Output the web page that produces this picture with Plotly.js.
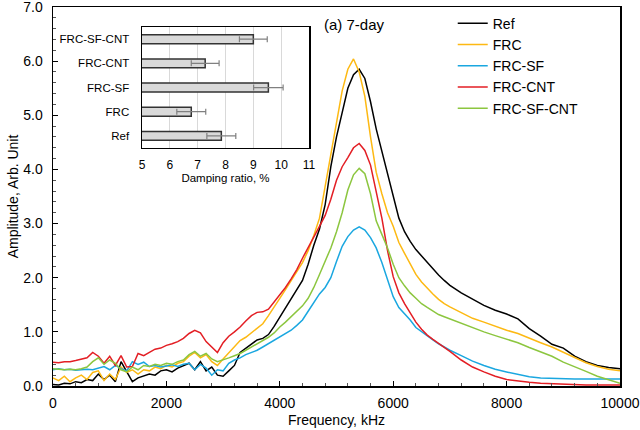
<!DOCTYPE html>
<html><head><meta charset="utf-8">
<script src="https://cdn.plot.ly/plotly-3.0.1.min.js"></script>
<style>html,body{margin:0;padding:0;background:#fff}#chart{width:640px;height:430px}</style>
</head><body><div id="chart"></div>
<script>
// Frequency grid (kHz)
const freq = [0,100,200,300,400,500,600,700,800,900,1000,1100,1200,1300,1400,1500,1600,1700,1800,1900,
2000,2100,2200,2300,2400,2500,2600,2700,2800,2900,3000,3100,3200,3300,3400,3500,3600,3700,3800,3900,
4000,4100,4200,4300,4400,4500,4600,4700,4800,4900,5000,5100,5200,5300,5400,5500,5600,5700,5800,5900,
6000,6100,6200,6300,6400,6500,6600,6700,6800,6900,7000,7200,7400,7600,7800,8000,8200,8400,8600,8800,
9000,9200,9400,9600,9800,10000];

const ampRef = [0.03,0.02,0.05,0.04,0.08,0.06,0.12,0.10,0.22,0.12,0.20,0.08,0.45,0.25,0.08,0.15,0.18,0.22,0.20,0.28,
0.30,0.26,0.33,0.38,0.42,0.30,0.45,0.28,0.35,0.20,0.18,0.28,0.38,0.62,0.70,0.78,0.85,0.88,0.95,1.10,
1.27,1.42,1.60,1.78,1.95,2.25,2.60,2.90,3.35,4.05,4.60,5.05,5.50,5.75,5.85,5.68,5.25,4.75,4.35,3.95,
3.50,3.10,2.85,2.67,2.52,2.40,2.28,2.15,2.05,1.95,1.86,1.72,1.60,1.49,1.40,1.33,1.24,1.06,0.92,0.77,
0.70,0.55,0.45,0.38,0.34,0.32];

const ampFRC = [0.15,0.10,0.18,0.08,0.15,0.20,0.12,0.25,0.28,0.10,0.22,0.12,0.35,0.25,0.30,0.22,0.30,0.28,0.35,0.32,
0.38,0.35,0.42,0.45,0.55,0.62,0.52,0.58,0.45,0.38,0.50,0.62,0.74,0.84,0.90,0.98,1.06,1.15,1.30,1.45,
1.62,1.78,1.95,2.10,2.28,2.50,2.78,3.10,3.70,4.30,4.90,5.45,5.85,6.04,5.80,5.35,4.60,3.95,3.55,3.20,
2.95,2.65,2.45,2.24,2.06,1.92,1.80,1.70,1.60,1.52,1.46,1.36,1.25,1.18,1.10,1.03,0.97,0.88,0.80,0.72,
0.62,0.52,0.43,0.36,0.31,0.28];

const ampFRCSF = [0.30,0.32,0.30,0.31,0.29,0.30,0.31,0.30,0.33,0.36,0.30,0.38,0.32,0.28,0.45,0.40,0.44,0.36,0.38,0.35,
0.37,0.39,0.36,0.40,0.42,0.30,0.40,0.33,0.20,0.30,0.28,0.42,0.48,0.52,0.58,0.62,0.66,0.72,0.78,0.84,
0.90,0.96,1.03,1.12,1.22,1.38,1.55,1.70,1.82,2.00,2.30,2.58,2.76,2.88,2.94,2.88,2.74,2.55,2.28,1.95,
1.65,1.45,1.34,1.22,1.08,1.00,0.92,0.85,0.78,0.72,0.66,0.56,0.46,0.38,0.31,0.26,0.21,0.17,0.15,0.14,
0.13,0.13,0.13,0.13,0.13,0.13];

const ampFRCCNT = [0.44,0.43,0.45,0.45,0.47,0.50,0.52,0.62,0.55,0.42,0.55,0.38,0.56,0.35,0.36,0.60,0.56,0.62,0.68,0.70,
0.75,0.78,0.82,0.88,0.97,1.03,0.98,0.82,0.72,0.62,0.80,0.92,1.00,1.09,1.20,1.30,1.36,1.37,1.42,1.55,
1.68,1.82,1.98,2.15,2.36,2.55,2.75,2.95,3.15,3.45,3.80,4.05,4.22,4.40,4.48,4.35,4.08,3.62,3.10,2.50,
2.02,1.72,1.52,1.35,1.18,1.05,0.94,0.86,0.79,0.72,0.64,0.48,0.35,0.26,0.18,0.12,0.09,0.07,0.05,0.04,
0.03,0.03,0.02,0.02,0.02,0.02];

const ampFRCSFCNT = [0.32,0.31,0.30,0.31,0.30,0.32,0.35,0.45,0.52,0.40,0.48,0.42,0.30,0.26,0.35,0.30,0.38,0.36,0.40,0.38,
0.42,0.40,0.45,0.48,0.58,0.64,0.55,0.60,0.50,0.45,0.48,0.52,0.56,0.60,0.66,0.72,0.78,0.84,0.90,0.98,
1.09,1.18,1.28,1.38,1.48,1.62,1.82,2.06,2.32,2.55,2.85,3.20,3.62,3.90,4.02,3.92,3.55,3.05,2.80,2.55,
2.25,2.00,1.85,1.72,1.62,1.52,1.45,1.38,1.32,1.28,1.24,1.16,1.07,1.00,0.93,0.86,0.80,0.71,0.63,0.55,
0.44,0.36,0.27,0.18,0.11,0.05];

const seriesNames = ['Ref','FRC','FRC-SF','FRC-CNT','FRC-SF-CNT'];
const seriesColors = ['#000000','#fdb913','#1aa7e0','#e31e24','#8cc63f'];
const seriesData = [ampRef, ampFRC, ampFRCSF, ampFRCCNT, ampFRCSFCNT];

// Inset: damping ratio (%)
const dampCats = ['Ref','FRC','FRC-SF','FRC-CNT','FRC-SF-CNT'];
const dampVals = [7.85, 6.77, 9.54, 7.27, 9.0];
const dampErr  = [0.52, 0.52, 0.53, 0.50, 0.50];

const yTickVals = [0,1,2,3,4,5,6,7];
const yTickText = ['0.0','1.0','2.0','3.0','4.0','5.0','6.0','7.0'];

const font = 'Liberation Sans, Arial, sans-serif';

const traces = seriesData.map((d,i)=>({
  x: freq, y: d, type:'scatter', mode:'lines', name: seriesNames[i],
  line:{color:seriesColors[i], width:1.5}, xaxis:'x', yaxis:'y'
}));

traces.push({
  type:'bar', orientation:'h', x: dampVals, y: dampCats, base: 0,
  xaxis:'x2', yaxis:'y2', showlegend:false, width:0.37,
  marker:{color:'#d9d9d9', line:{color:'#333333', width:1.5}},
  error_x:{type:'data', array:dampErr, visible:true, color:'#808080', thickness:1.2, width:3}
});

const layout = {
  width:640, height:430,
  margin:{l:53, r:20, t:7, b:44},
  paper_bgcolor:'#fff', plot_bgcolor:'#fff',
  font:{family:font, size:14, color:'#000'},
  showlegend:true,
  legend:{x:0.705, y:0.998, xanchor:'left', yanchor:'top', bgcolor:'rgba(0,0,0,0)',
          font:{family:font, size:14}, tracegroupgap:0, itemwidth:30},
  xaxis:{domain:[0,1], range:[0,10000], dtick:2000, tick0:0, tickformat:'d', showgrid:false, zeroline:false,
         showline:true, linecolor:'#000', linewidth:1.5, mirror:true,
         ticks:'inside', ticklen:5, tickcolor:'#000', ticklabeloverflow:'allow', ticklabelstandoff:4,
         minor:{dtick:400, ticks:'inside', ticklen:3, tickcolor:'#555'},
         tickfont:{family:font, size:14},
         title:{text:'Frequency, kHz', font:{family:font, size:14}, standoff:5}},
  yaxis:{domain:[0,1], range:[0,7], tickvals:yTickVals, ticktext:yTickText, showgrid:false, zeroline:false,
         showline:true, linecolor:'#000', linewidth:1.5, mirror:true,
         ticks:'inside', ticklen:5, tickcolor:'#000', ticklabeloverflow:'allow', ticklabelstandoff:6,
         minor:{dtick:0.2, ticks:'inside', ticklen:3, tickcolor:'#555'},
         tickfont:{family:font, size:14},
         title:{text:'Amplitude, Arb. Unit', font:{family:font, size:14}, standoff:1}},
  xaxis2:{domain:[0.157,0.4515], anchor:'y2', range:[5,11], dtick:1, showgrid:true, gridcolor:'#d9d9d9',
          zeroline:false, showline:true, linecolor:'#000', linewidth:1.5, mirror:true,
          ticks:'outside', ticklen:5, tickcolor:'rgba(0,0,0,0)',
          tickfont:{family:font, size:12},
          title:{text:'Damping ratio, %', font:{family:font, size:11.5}, standoff:2}},
  yaxis2:{domain:[0.628,0.947], anchor:'x2', range:[-0.5,4.5], showgrid:false, zeroline:false,
          showline:true, linecolor:'#000', linewidth:1.5, mirror:true, ticks:'',
          tickfont:{family:font, size:11.5}, ticklabelstandoff:9},
  annotations:[{text:'(a) 7-day', xref:'paper', yref:'paper', x:0.474, y:0.955, xanchor:'left', yanchor:'middle',
                showarrow:false, font:{family:font, size:15}}]
};

Plotly.newPlot('chart', traces, layout, {displayModeBar:false, staticPlot:true});
</script></body></html>
